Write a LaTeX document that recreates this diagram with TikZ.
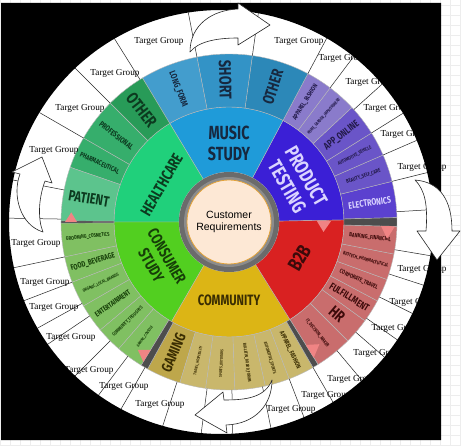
\documentclass[tikz,border=0pt]{standalone}
\usepackage{fontspec}
\setmainfont{Liberation Serif}
\newfontfamily\reqfont{Liberation Sans}
\newfontfamily\burstfont[FakeStretch=0.75]{Fira Sans}
\usetikzlibrary{positioning}

\definecolor{musicin}{HTML}{1F9BD9}
\definecolor{musicout}{HTML}{3393C6}
\definecolor{musicoth}{HTML}{2C88B8}
\definecolor{musiclong}{HTML}{439DCD}
\definecolor{musictx}{HTML}{17283F}
\definecolor{prodin}{HTML}{3B1FD6}
\definecolor{prodout}{HTML}{6A55C8}
\definecolor{prodpale}{HTML}{8A7BCB}
\definecolor{prodelec}{HTML}{5B41CF}
\definecolor{prodtx}{HTML}{231A4A}
\definecolor{prodlt}{HTML}{DAD4FF}
\definecolor{hcin}{HTML}{20D07B}
\definecolor{hcoth}{HTML}{289B58}
\definecolor{hcout}{HTML}{36AE6C}
\definecolor{hcpat}{HTML}{5CC48D}
\definecolor{hctx}{HTML}{0C3A1F}
\definecolor{conin}{HTML}{52CF20}
\definecolor{conout}{HTML}{80C062}
\definecolor{contx}{HTML}{163F08}
\definecolor{comin}{HTML}{DCB515}
\definecolor{comout}{HTML}{C9B76C}
\definecolor{comgam}{HTML}{BEA74B}
\definecolor{comtx}{HTML}{3A2D02}
\definecolor{bbin}{HTML}{D92121}
\definecolor{bbout}{HTML}{C96D6D}
\definecolor{bbtx}{HTML}{3D0A0A}
\definecolor{band}{HTML}{4D4D4D}
\definecolor{flag}{HTML}{F08484}
\definecolor{hubring}{HTML}{6B6B6B}
\definecolor{hubfill}{HTML}{FDE8D5}
\definecolor{hubedge}{HTML}{E3A238}

% annular sector: start, end, inner radius, outer radius, fill
\newcommand{\burstseg}[5]{%
  \filldraw[seg, fill=#5] (#1:#3) arc[start angle=#1, end angle=#2, radius=#3]
    -- (#2:#4) arc[start angle=#2, end angle=#1, radius=#4] -- cycle;}

\begin{document}
\begin{tikzpicture}[
  x=1pt, y=1pt,
  tgroup/.style  ={font=\fontsize{9.2}{10}\selectfont, inner sep=0pt},
  ringline/.style={black!85, line width=0.5pt},
  seg/.style     ={draw=black!28, line width=0.4pt},
  inlabel/.style ={font=\burstfont\bfseries\fontsize{#1}{#1}\selectfont,
                   align=center, inner sep=0pt},
  sublabel/.style={inner sep=0pt},
  core/.style    ={circle, draw=hubedge, line width=0.8pt, fill=hubfill,
                   minimum size=84pt, inner sep=0pt, align=center,
                   font=\reqfont\fontsize{10.5}{11.5}\selectfont},
  jump/.style    ={draw=black!85, fill=white, line width=0.6pt, line join=round}
]
\useasboundingbox (0,0) rectangle (461,445);

% ---------- Canvas grid ----------
\draw[step=10, black!7, line width=0.3pt] (0,0) grid (461,445);
\fill[white] (221,223) circle[radius=212];

% ---------- Sunburst ----------
\begin{scope}[shift={(229,223)}]
  % inner ring
  \burstseg{1}{62}{50}{115}{prodin}
  \burstseg{62}{121}{50}{115}{musicin}
  \burstseg{121}{180}{50}{115}{hcin}
  \burstseg{180}{240}{50}{115}{conin}
  \burstseg{240}{302}{50}{115}{comin}
  \burstseg{302}{361}{50}{115}{bbin}

  % outer ring
  \foreach \a/\b/\f/\s/\c/\t [count=\k] in {
      1.5/14/prodelec/9.5/prodlt/ELECTRONICS,
      14/23.5/prodout/5.5/prodtx/BEAUTY\_SELF\_CARE,
      23.5/32/prodout/5/prodtx/AUTOMOTIVE\_VEHICLE,
      32/43/prodout/10/prodtx/APP\_ONLINE,
      43/53/prodpale/4.5/prodtx/HOME\_GARDEN\_IMPROVEMENT,
      53/62/prodpale/6.5/prodtx/APPAREL\_FASHION,
      62/82/musicoth/16/musictx/OTHER,
      82/101/musicout/17/musictx/SHORT,
      101/121/musiclong/9/musictx/LONG\_FORM,
      121/135/hcoth/17/hctx/OTHER,
      135/150/hcout/8/hctx/PROFESSIONAL,
      150/161/hcout/7/hctx/PHARMACEUTICAL,
      161/180/hcpat/15/hctx/PATIENT,
      180/192/conout/5.5/contx/GROOMING\_COSMETICS,
      192/201/conout/8/contx/FOOD\_BEVERAGE,
      201/210/conout/4.5/contx/ORGANIC\_LOCAL\_BRANDS,
      210/220/conout/7.5/contx/ENTERTAINMENT,
      220/229/conout/5/contx/COMMUNITY\_THOUGHTS,
      229/238.5/conout/4/contx/GAMING\_CONSOLE,
      241/253/comgam/15/comtx/GAMING,
      253/262/comout/4/comtx/TRAVEL\_HOSPITALITY,
      262/272/comout/4/comtx/SPORTS\_OUTDOORS,
      272/282.5/comout/4.5/comtx/BULLETIN\_BOARD\_FORUM,
      282.5/291/comout/4.5/comtx/AUTOMOTIVE\_SPORTS,
      291/300/comout/6.5/comtx/APPAREL\_FASHION,
      302/315/bbout/5/bbtx/IT\_DECISION\_MAKER,
      315/324/bbout/16/bbtx/HR,
      324/332/bbout/10/bbtx/FULFILLMENT,
      332/340/bbout/6/bbtx/CORPORATE\_TRAVEL,
      340/349/bbout/5/bbtx/BIOTECH\_PHARMACEUTICAL,
      349/358.5/bbout/6/bbtx/BANKING\_FINANCIAL}{
    \burstseg{\a}{\b}{115}{168}{\f}
    \pgfmathsetmacro\m{(\a+\b)/2}
    \pgfmathsetmacro\rot{cos(\m)>0 ? \m : \m-180}
    \node[sublabel, text=\c, rotate=\rot,
          font=\burstfont\bfseries\fontsize{\s}{\s}\selectfont] (sub\k) at (\m:142) {\t};
  }

  % separators and flags
  \burstseg{358.5}{361.5}{115}{168}{band}
  \burstseg{238.5}{241}{115}{168}{band}
  \burstseg{300}{302}{115}{168}{band}
  \burstseg{179.6}{180.4}{115}{168}{band}
  \fill[flag] (0.5:88) -- (0.5:102) -- (-6:95) -- cycle;
  \fill[flag] (-1.5:152) -- (-1.5:166) -- (-6:159) -- cycle;
  \fill[flag] (180:152) -- (180:164) -- (176.5:158) -- cycle;
  \fill[flag] (238.5:150) -- (238.5:164) -- (234.5:157) -- cycle;
  \fill[flag] (302:145) -- (302:160) -- (306.5:152) -- cycle;

  % category labels
  \node[inlabel=20, text=prodlt, rotate=-60]  (prod)    at (31:79)  {PRODUCT\\[2pt]TESTING};
  \node[inlabel=19, text=musictx]             (music)   at (90:79)  {MUSIC\\[2pt]STUDY};
  \node[inlabel=16, text=hctx, rotate=60]     (health)  at (151:77) {HEALTHCARE};
  \node[inlabel=16, text=contx, rotate=-60]   (consum)  at (209:80) {CONSUMER\\[2pt]STUDY};
  \node[inlabel=15, text=comtx]               (commun)  at (270:78) {COMMUNITY};
  \node[inlabel=20, text=bbtx, rotate=60]     (btob)    at (333:79) {B2B};

  % hub
  \fill[hubring] (0,0) circle[radius=50];
  \fill[black!45] (0,0) circle[radius=45];
  \node[core] (req) at (0,0) {Customer\\Requirements};

  % ---------- Target ring dividers ----------
  \begin{scope}
    \clip (-8,0) circle[radius=212];
    \foreach \g in {3.5,14,23.5,32,42,53,62,82,101,122,135,150,169,179,
                    192,201,209,214,225,233,240,252,262.5,271,281.5,291,
                    300,310,319,325,333.5,342,350.5}
      \draw[ringline] (\g:168) -- (\g:235);
  \end{scope}
\end{scope}

% ---------- Target Group labels ----------
\node[tgroup] (tg1)  at (159,404) {Target Group};
\node[tgroup] (tg2)  at (299,404) {Target Group};
\node[tgroup] (tg3)  at (115,372) {Target Group};
\node[tgroup] (tg4)  at (80,337)  {Target Group};
\node[tgroup] (tg5)  at (54,295)  {Target Group};
\node[tgroup] (tg6)  at (343,387) {Target Group};
\node[tgroup] (tg7)  at (370,363) {Target Group};
\node[tgroup] (tg8)  at (388,337) {Target Group};
\node[tgroup] (tg9)  at (405,311) {Target Group};
\node[tgroup] (tg10) at (422,278) {Target Group};
\node[tgroup] (tg11) at (36,202)  {Target Group};
\node[tgroup] (tg12) at (45,163)  {Target Group};
\node[tgroup] (tg13) at (54,138)  {Target Group};
\node[tgroup] (tg14) at (71,108)  {Target Group};
\node[tgroup] (tg15) at (89,75)   {Target Group};
\node[tgroup] (tg16) at (124,59)  {Target Group};
\node[tgroup] (tg17) at (160,41)  {Target Group};
\node[tgroup] (tg18) at (422,176) {Target Group};
\node[tgroup] (tg19) at (414,143) {Target Group};
\node[tgroup] (tg20) at (396,117) {Target Group};
\node[tgroup] (tg21) at (378,92)  {Target Group};
\node[tgroup] (tg22) at (352,66)  {Target Group};
\node[tgroup] (tg23) at (326,50)  {Target Group};
\node[tgroup] (tg24) at (291,36)  {Target Group};

% ---------- Black frame ----------
\fill[black, even odd rule] (1,5) rectangle (441,442) (221,223) circle[radius=212];

% ---------- Jump arrows ----------
\draw[jump] (190,393) .. controls (190,420) and (212,435) .. (238,436)
  -- (238,442) -- (270,420) -- (238,400) -- (238,407)
  .. controls (215,407) and (198,403) .. (190,393) -- cycle;
\draw[jump] (415,265) .. controls (440,263) and (452,245) .. (452,214)
  -- (460,214) -- (437,185) -- (417,214) -- (426,214)
  .. controls (428,240) and (425,255) .. (415,265) -- cycle;
\draw[jump] (272,65) .. controls (265,47) and (245,45) .. (224,45)
  -- (223,53) -- (195,30) -- (227,12) -- (226,20)
  .. controls (255,21) and (272,40) .. (272,65) -- cycle;
\draw[jump] (43,213) .. controls (20,220) and (12,250) .. (20,271)
  -- (12,273) -- (42,288) -- (52,262) -- (45,264)
  .. controls (38,245) and (38,225) .. (43,213) -- cycle;

\end{tikzpicture}
\end{document}
